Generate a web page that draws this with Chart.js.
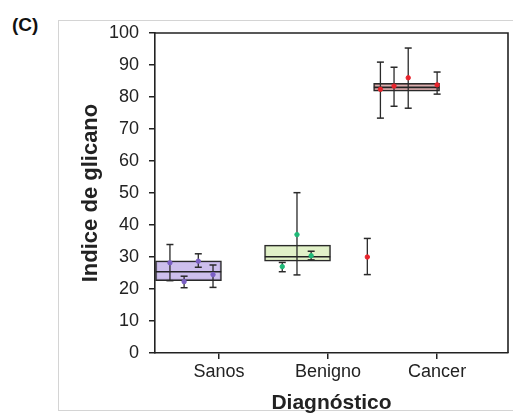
<!DOCTYPE html>
<html>
<head>
<meta charset="utf-8">
<script src="https://cdn.jsdelivr.net/npm/chart.js@4"></script>
<style>
  body { margin: 0; background: #fff; }
  #wrap { position: relative; width: 526px; height: 414px; }
  #frame { position: absolute; left: 58px; top: 20px; width: 454px; height: 389px;
           border-left: 1px solid #d4d4d4; border-top: 1px solid #d4d4d4; border-bottom: 1px solid #d4d4d4; }
  #tag { position: absolute; left: 12px; top: 14px; font: bold 19px "Liberation Sans", Arial, sans-serif; color: #111; }
  canvas { position: absolute; left: 0; top: 0; }
</style>
</head>
<body>
<div id="wrap">
  <div id="frame"></div>
  <div id="tag">(C)</div>
  <canvas id="boxChart" width="526" height="414"></canvas>
</div>
<script>
// categories and values
var categories = ['Sanos', 'Benigno', 'Cancer'];
var boxLow = [22.6, 28.7, 81.8];
var boxHigh = [28.8, 33.7, 84.3];
var boxMedian = [25.4, 30.1, 83.0];

// individual samples: x position (in category units), mean, lower, upper
var sanosX = [0.55, 0.68, 0.81, 0.945];
var sanosMean = [28.2, 22.3, 28.7, 24.5];
var sanosLo = [22.6, 20.4, 26.8, 20.5];
var sanosHi = [33.9, 24.0, 31.0, 27.5];

var benignoX = [1.58, 1.715, 1.845];
var benignoMean = [27.0, 37.0, 30.4];
var benignoLo = [25.4, 24.4, 29.1];
var benignoHi = [28.3, 50.1, 31.8];

var cancerX = [2.48, 2.605, 2.735, 3.0, 2.36];
var cancerMean = [82.4, 83.4, 86.0, 83.8, 30.0];
var cancerLo = [73.4, 77.1, 76.5, 80.9, 24.5];
var cancerHi = [90.9, 89.3, 95.3, 87.8, 35.8];

var boxShift = -0.28; // boxes sit left of the tick
var boxFill = ['rgba(196,180,234,0.85)', 'rgba(222,239,194,0.9)', 'rgba(214,160,160,0.85)'];
var dotColor = ['#7b5fc4', '#1fb978', '#e8242c'];

function errorLines(xs, lo, hi) {
  var pts = [];
  for (var i = 0; i < xs.length; i++) {
    pts.push({x: xs[i], y: lo[i]});
    pts.push({x: xs[i], y: hi[i]});
    pts.push({x: xs[i], y: null});
  }
  return pts;
}
function dots(xs, m) {
  return xs.map(function (x, i) { return {x: x, y: m[i]}; });
}

var medianPts = [];
categories.forEach(function (c, i) {
  var cx = i + 1 + boxShift;
  medianPts.push({x: cx - 0.3, y: boxMedian[i]});
  medianPts.push({x: cx + 0.3, y: boxMedian[i]});
  medianPts.push({x: cx, y: null});
});

var groups = [[sanosX, sanosMean, sanosLo, sanosHi], [benignoX, benignoMean, benignoLo, benignoHi], [cancerX, cancerMean, cancerLo, cancerHi]];
var datasets = [];

groups.forEach(function (g, i) {
  datasets.push({
    type: 'line', order: 0, showLine: false, data: dots(g[0], g[1]),
    pointStyle: 'circle', pointRadius: 2.2, pointBackgroundColor: dotColor[i], pointBorderColor: dotColor[i], pointBorderWidth: 1
  });
  datasets.push({
    type: 'line', order: 1, data: errorLines(g[0], g[2], g[3]), spanGaps: false,
    borderColor: '#2a2a2a', borderWidth: 1.3, pointStyle: 'line', pointRadius: 3.5,
    pointBorderColor: '#2a2a2a', pointBorderWidth: 1.5
  });
});

datasets.push({
  type: 'line', order: 2, data: medianPts, spanGaps: false,
  borderColor: '#222', borderWidth: 1.6, pointRadius: 0
});

datasets.push({
  type: 'bar', order: 3,
  data: categories.map(function (c, i) { return {x: i + 1 + boxShift, y: [boxLow[i], boxHigh[i]]}; }),
  backgroundColor: boxFill, borderColor: '#2a2a2a', borderWidth: 1.5, borderSkipped: false,
  barThickness: 66, grouped: false
});

var frameBox = {
  id: 'frameBox',
  afterDraw: function (chart) {
    var a = chart.chartArea, ctx = chart.ctx;
    ctx.save();
    ctx.strokeStyle = '#222';
    ctx.lineWidth = 1.6;
    ctx.beginPath();
    ctx.moveTo(a.left, a.top);
    ctx.lineTo(a.right, a.top);
    ctx.lineTo(a.right, a.bottom);
    ctx.stroke();
    ctx.restore();
  }
};

Chart.defaults.font.family = '"Liberation Sans", Arial, sans-serif';
Chart.defaults.color = '#222';

var ctx = document.getElementById('boxChart').getContext('2d');
var myChart = new Chart(ctx, {
  type: 'bar',
  data: { datasets: datasets },
  plugins: [frameBox],
  options: {
    responsive: false,
    animation: false,
    layout: { padding: { left: 78, right: 18, top: 33, bottom: 0 } },
    plugins: { legend: { display: false }, tooltip: { enabled: false } },
    scales: {
      x: {
        type: 'linear', min: 0.413, max: 3.65, offset: false,
        afterBuildTicks: function (s) { s.ticks = [1, 2, 3].map(function (v) { return {value: v}; }); },
        afterFit: function (s) { s.height = 61; },
        ticks: { font: { size: 18 }, padding: 2, maxRotation: 0,
                 callback: function (v) { return categories[v - 1]; } },
        grid: { offset: false, drawOnChartArea: false, drawTicks: true, tickLength: 6, color: '#222', lineWidth: 1.5 },
        border: { color: '#222', width: 1.6 },
        title: { display: true, text: 'Diagnóstico', font: { size: 21, weight: 'bold', lineHeight: 1 }, padding: 0 }
      },
      y: {
        min: 0, max: 100,
        afterFit: function (s) { s.width = 77; },
        ticks: { stepSize: 10, font: { size: 18 }, padding: 10 },
        grid: { drawOnChartArea: false, drawTicks: true, tickLength: 6, color: '#222', lineWidth: 1.5 },
        border: { color: '#222', width: 1.6 },
        title: { display: true, text: 'Indice de glicano', font: { size: 22, weight: 'bold', lineHeight: 1.2 }, padding: 0 }
      }
    }
  }
});
</script>
</body>
</html>
